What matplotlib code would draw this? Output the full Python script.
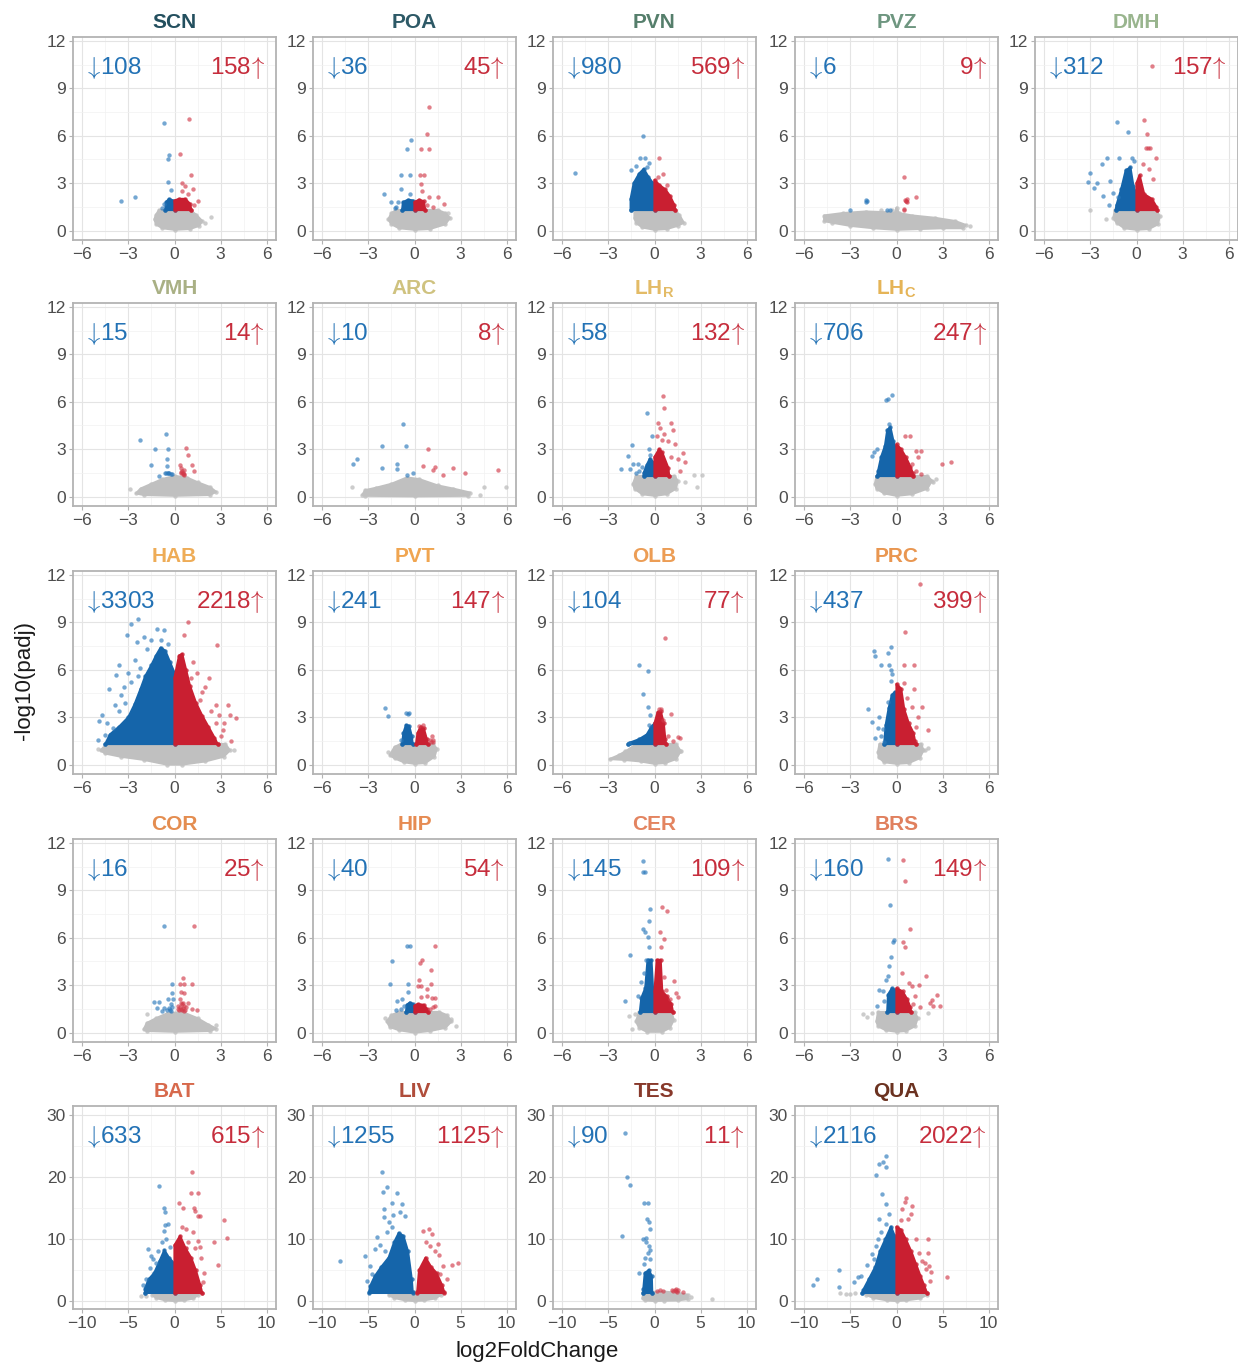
# Volcano plots of differential expression per tissue

import matplotlib
matplotlib.use('Agg')
import matplotlib.pyplot as plt
from matplotlib.patches import Polygon
from matplotlib.ticker import MultipleLocator

plt.rcParams['font.family'] = ['Liberation Sans', 'DejaVu Sans']
plt.rcParams['mathtext.fontset'] = 'cm'

# -log10(0.05)
THR = 1.3

regions = ['SCN', 'POA', 'PVN', 'PVZ', 'DMH',
           'VMH', 'ARC', 'LH$_\\mathregular{R}$', 'LH$_\\mathregular{C}$',
           'HAB', 'PVT', 'OLB', 'PRC',
           'COR', 'HIP', 'CER', 'BRS',
           'BAT', 'LIV', 'TES', 'QUA']
down_counts = [108, 36, 980, 6, 312, 15, 10, 58, 706, 3303, 241, 104, 437,
               16, 40, 145, 160, 633, 1255, 90, 2116]
up_counts = [158, 45, 569, 9, 157, 14, 8, 132, 247, 2218, 147, 77, 399,
             25, 54, 109, 149, 615, 1125, 11, 2022]
title_colors = ['#234f5e', '#2d5966', '#557e6b', '#6e9680', '#99b58e',
                '#a9b084', '#cfc27f', '#e3bb66', '#e5b457',
                '#eeac57', '#f0a550', '#ec9d55', '#e99650',
                '#e48d50', '#e68b52', '#e38460', '#e0805e',
                '#d7694c', '#b04d3b', '#88392b', '#6b3220']

# ---- SCN
SCN_GREY = [(-1.3, 0.7), (-1.2, 1.0), (-1.0, 1.3), (1.0, 1.3), (1.4, 1.0), (1.8, 0.6),
            (1.6, 0.3), (1.0, 0.1), (0.0, 0.05), (-0.8, 0.15), (-1.2, 0.4)]
SCN_DOWN = [(-0.6, 1.3), (-0.55, 1.8), (-0.35, 2.0), (-0.1, 1.9), (0, 1.8)]
SCN_UP = [(0, 1.9), (0.3, 2.0), (0.7, 2.0), (1.0, 1.7), (1.1, 1.3)]
SCN_DOWN_PTS = [(-0.71, 6.78), (-0.35, 4.8), (-0.4, 4.5), (-0.44, 3.05), (-0.22, 2.55),
                (-3.5, 1.9), (-2.55, 2.1), (-0.7, 1.65), (-0.8, 1.45)]
SCN_UP_PTS = [(0.96, 7.05), (0.38, 4.85), (1.1, 3.5), (0.5, 3.0), (0.7, 2.8), (0.5, 2.5),
              (0.9, 2.3), (1.5, 1.9), (1.2, 2.6), (1.3, 1.6)]
SCN_GREY_PTS = [(2.4, 0.85), (2.0, 0.5)]

# ---- POA
POA_GREY = [(-1.7, 0.7), (-1.5, 1.1), (-1.2, 1.3), (1.5, 1.3), (2.0, 1.1), (2.3, 0.8),
            (2.0, 0.4), (1.0, 0.1), (0, 0.05), (-1.0, 0.15), (-1.5, 0.4)]
POA_DOWN = [(-0.8, 1.3), (-0.75, 1.8), (-0.4, 1.95), (-0.1, 1.9), (0, 1.7)]
POA_UP = [(0, 1.8), (0.3, 1.95), (0.6, 1.85), (0.7, 1.3)]
POA_DOWN_PTS = [(-0.22, 5.7), (-0.49, 5.15), (-0.89, 3.5), (-0.27, 3.5), (-0.89, 2.6),
                (-2.0, 2.3), (-1.56, 1.8), (-1.1, 1.8), (-1.2, 1.5), (-0.3, 2.3), (-1.3, 1.4)]
POA_UP_PTS = [(0.96, 7.8), (0.84, 6.1), (0.44, 5.15), (0.96, 5.15), (0.33, 3.5), (0.62, 3.5),
              (0.4, 2.95), (0.5, 2.5), (0.93, 2.1), (1.56, 2.1), (1.9, 1.7), (0.8, 1.6), (1.2, 1.5)]
POA_GREY_PTS = [(2.2, 1.1)]

# ---- PVN
PVN_GREY = [(-1.3, 0.8), (-1.3, 1.3), (1.3, 1.3), (1.6, 1.0), (1.9, 0.5), (1.5, 0.3),
            (0.8, 0.1), (0, 0.05), (-0.8, 0.2), (-1.2, 0.5)]
PVN_DOWN = [(-1.55, 1.3), (-1.55, 2.0), (-1.35, 3.0), (-1.0, 3.6), (-0.7, 3.9),
            (-0.4, 3.4), (-0.1, 3.0), (0, 2.8)]
PVN_UP = [(0, 3.2), (0.3, 2.9), (0.7, 2.6), (1.0, 2.2), (1.3, 1.6), (1.35, 1.3)]
PVN_DOWN_PTS = [(-0.78, 6.0), (-5.2, 3.67), (-0.96, 4.6), (-0.62, 4.6), (-1.5, 3.8),
                (-0.34, 4.3), (-1.2, 4.1), (-0.5, 4.0)]
PVN_UP_PTS = [(0.3, 4.6), (0.53, 3.56), (0.2, 3.4), (0.8, 2.9)]
PVN_GREY_PTS = []

# ---- PVZ
PVZ_GREY = [(-4.7, 0.6), (-4.7, 0.95), (-3.5, 1.1), (-2.0, 1.2), (-0.6, 1.15), (-0.1, 1.1),
            (0.0, 1.45), (0.15, 1.1), (1.0, 0.95), (2.5, 0.8), (3.8, 0.6), (4.5, 0.35),
            (4.3, 0.15), (3.0, 0.15), (1.5, 0.1), (0, 0.05), (-1.5, 0.15), (-3.0, 0.3),
            (-4.2, 0.5)]
PVZ_DOWN = None
PVZ_UP = None
PVZ_DOWN_PTS = [(-3.0, 1.3), (-1.97, 1.93), (-1.97, 1.8), (-0.45, 1.3), (-0.6, 1.33), (-1.9, 1.87)]
PVZ_UP_PTS = [(0.48, 3.4), (0.55, 1.93), (0.67, 1.8), (1.27, 2.1), (0.48, 1.3), (0.6, 1.9),
              (0.7, 2.0), (0.5, 1.35), (0.62, 1.85)]
PVZ_GREY_PTS = [(4.8, 0.3), (-1.0, 1.3), (-0.3, 1.3)]

# ---- DMH
DMH_GREY = [(-1.5, 0.8), (-1.4, 1.3), (1.3, 1.3), (1.5, 0.9), (1.4, 0.4), (0.8, 0.1),
            (0, 0.05), (-0.8, 0.15), (-1.3, 0.5)]
DMH_DOWN = [(-1.35, 1.3), (-1.3, 1.6), (-1.0, 2.6), (-0.7, 3.8), (-0.4, 4.0), (-0.2, 2.8), (0, 2.3)]
DMH_UP = [(0, 3.0), (0.2, 3.5), (0.5, 2.3), (1.0, 2.0), (1.3, 1.5), (1.35, 1.3)]
DMH_DOWN_PTS = [(-1.29, 6.9), (-0.54, 6.25), (-1.95, 4.6), (-2.25, 4.2), (-3.0, 3.67),
                (-3.15, 3.04), (-2.55, 3.0), (-2.76, 2.7), (-1.71, 3.14), (-1.5, 2.4),
                (-1.2, 2.1), (-1.14, 4.6), (-0.3, 4.6), (-0.15, 4.4), (-1.8, 1.6), (-2.2, 2.2)]
DMH_UP_PTS = [(0.51, 7.0), (0.66, 6.1), (0.75, 5.25), (0.9, 5.25), (1.29, 4.6), (0.45, 4.2),
              (0.6, 5.2), (1.05, 3.25), (0.99, 10.4), (0.8, 3.9)]
DMH_GREY_PTS = [(-3.0, 1.3), (-2.0, 0.73)]

# ---- VMH
VMH_GREY = [(-2.5, 0.2), (-2.2, 0.5), (-1.5, 0.8), (-0.8, 1.1), (0, 1.3), (0.8, 1.2),
            (1.5, 0.9), (2.3, 0.6), (2.7, 0.3), (2.3, 0.1), (0, 0.05), (-2.0, 0.1)]
VMH_DOWN = None
VMH_UP = None
VMH_DOWN_PTS = [(-2.23, 3.55), (-1.27, 3.0), (-1.5, 2.0), (-0.56, 3.97), (-0.45, 3.0),
                (-0.5, 2.4), (-0.51, 1.94), (-0.56, 1.5), (-0.34, 1.46), (-0.18, 1.42),
                (-1.0, 1.3), (-0.45, 1.5), (-0.25, 1.44), (-0.4, 1.5), (-0.6, 1.48)]
VMH_UP_PTS = [(0.74, 3.09), (0.89, 2.6), (1.12, 1.98), (1.3, 1.63), (0.34, 1.98), (0.45, 1.8),
              (0.56, 1.52), (0.63, 1.7), (0.45, 1.46), (0.55, 1.4), (0.65, 1.45), (0.5, 1.6),
              (0.6, 1.35), (0.4, 1.55)]
VMH_GREY_PTS = [(-2.9, 0.5)]

# ---- ARC
ARC_GREY = [(-3.4, 0.1), (-3.2, 0.4), (-2.5, 0.55), (-1.5, 0.8), (-0.5, 1.2), (0.3, 1.1),
            (1.5, 0.7), (2.5, 0.5), (3.6, 0.25), (3.5, 0.05), (0, 0.02), (-3.2, 0.05)]
ARC_DOWN = None
ARC_UP = None
ARC_DOWN_PTS = [(-4.0, 2.09), (-3.76, 2.36), (-2.14, 3.19), (-2.1, 1.82), (-1.17, 2.09),
                (-1.17, 1.72), (-0.72, 4.6), (-0.56, 3.2), (-0.52, 1.36), (-0.07, 1.5)]
ARC_UP_PTS = [(0.9, 2.98), (0.56, 1.92), (1.19, 1.7), (1.87, 1.36), (2.48, 1.8), (3.27, 1.5),
              (5.4, 1.66), (1.35, 1.85)]
ARC_GREY_PTS = [(-4.05, 0.63), (4.28, 0.1), (4.5, 0.6), (5.97, 0.6)]

# ---- LH rostral
LHR_GREY = [(-1.4, 0.8), (-1.2, 1.3), (1.3, 1.3), (1.5, 1.0), (1.4, 0.5), (0.8, 0.15),
            (0, 0.05), (-0.8, 0.15), (-1.3, 0.5)]
LHR_DOWN = [(-0.7, 1.3), (-0.7, 1.5), (-0.5, 2.0), (-0.3, 2.4), (0, 2.1)]
LHR_UP = [(0, 2.5), (0.3, 3.0), (0.5, 2.8), (0.9, 1.8), (0.95, 1.3)]
LHR_DOWN_PTS = [(-0.49, 5.28), (-1.45, 3.25), (-1.72, 2.59), (-2.2, 1.76), (-1.38, 2.07),
                (-1.05, 2.07), (-0.82, 1.86), (-0.31, 2.6), (-0.38, 3.0), (-0.16, 3.83),
                (-1.6, 1.76), (-1.0, 1.6), (-1.2, 1.5)]
LHR_UP_PTS = [(0.58, 6.36), (0.62, 5.59), (0.24, 4.66), (0.36, 4.35), (1.07, 4.66), (1.22, 4.18),
              (0.62, 3.93), (0.85, 3.52), (1.34, 3.31), (1.85, 2.73), (1.96, 2.17), (1.69, 1.61),
              (1.51, 2.38), (0.18, 3.8), (0.5, 3.6), (1.1, 2.5)]
LHR_GREY_PTS = [(3.07, 1.35), (2.6, 1.35), (2.79, 0.62), (2.0, 0.9)]

# ---- LH caudal
LHC_GREY = [(-1.4, 0.8), (-1.3, 1.3), (2.0, 1.3), (2.3, 1.0), (2.0, 0.5), (1.0, 0.15),
            (0, 0.05), (-0.8, 0.2), (-1.3, 0.5)]
LHC_DOWN = [(-1.25, 1.3), (-1.2, 1.6), (-1.0, 2.5), (-0.75, 3.2), (-0.6, 4.2), (-0.4, 4.4),
            (-0.2, 3.5), (0, 2.9)]
LHC_UP = [(0, 3.3), (0.3, 3.0), (0.6, 2.5), (0.9, 1.9), (1.05, 1.5), (1.1, 1.3)]
LHC_DOWN_PTS = [(-0.57, 6.15), (-0.27, 6.42), (-0.71, 6.1), (-1.49, 2.8), (-1.6, 2.59),
                (-1.26, 3.0), (-0.5, 4.6)]
LHC_UP_PTS = [(0.57, 3.83), (0.91, 3.83), (1.26, 2.9), (1.6, 2.9), (1.37, 2.48), (2.93, 2.03),
              (3.54, 2.17), (1.03, 2.07), (1.3, 1.6), (1.6, 1.45)]
LHC_GREY_PTS = [(2.6, 1.14), (2.4, 0.9)]

# ---- HAB
HAB_GREY = [(-4.8, 0.9), (-4.4, 1.3), (3.3, 1.3), (3.6, 0.9), (3.2, 0.5), (2.0, 0.2),
            (0.5, 0.0), (-0.5, 0.0), (-2.0, 0.3), (-3.5, 0.5), (-4.5, 0.7)]
HAB_DOWN = [(-4.5, 1.3), (-4.2, 1.9), (-3.6, 2.4), (-3.0, 3.0), (-2.6, 3.8), (-2.2, 4.8),
            (-1.9, 5.6), (-1.5, 6.3), (-1.2, 6.9), (-0.9, 7.4), (-0.6, 7.2), (-0.3, 6.5), (0, 5.8)]
HAB_UP = [(0, 5.5), (0.3, 6.9), (0.5, 7.0), (0.75, 6.0), (1.0, 5.0), (1.4, 3.9), (1.8, 3.1),
          (2.2, 2.4), (2.6, 1.7), (2.8, 1.3)]
HAB_DOWN_PTS = [(-2.35, 9.22), (-2.8, 8.9), (-1.12, 8.6), (-0.67, 8.5), (-3.1, 8.2), (-2.0, 8.1),
                (-2.46, 7.75), (-1.56, 7.86), (-3.58, 6.3), (-3.8, 5.66), (-4.25, 4.8),
                (-4.9, 2.73), (-5.0, 1.57), (-4.7, 3.15), (-3.9, 3.77), (-3.47, 4.4),
                (-2.8, 5.24), (-2.23, 6.08), (-4.0, 2.3), (-4.5, 1.9), (-3.2, 3.9), (-3.0, 5.8),
                (-2.6, 6.6), (-1.8, 7.3), (-0.9, 7.9), (-0.4, 7.6), (-4.4, 2.6), (-3.6, 3.4),
                (-3.3, 4.9), (-2.4, 5.6)]
HAB_UP_PTS = [(0.89, 9.0), (0.63, 8.18), (2.75, 7.55), (1.79, 4.61), (1.63, 4.09), (2.68, 3.77),
              (3.46, 3.77), (4.02, 2.94), (3.58, 3.14), (2.9, 3.14), (3.13, 2.2), (3.69, 1.47),
              (3.0, 1.78), (2.23, 5.45), (2.0, 4.93), (1.45, 5.77), (1.23, 6.5), (1.1, 5.5),
              (2.4, 3.4), (3.2, 2.6), (2.7, 2.6)]
HAB_GREY_PTS = [(-5.0, 1.0), (3.9, 0.9)]

# ---- PVT
PVT_GREY = [(-1.6, 0.6), (-1.3, 1.1), (-0.9, 1.3), (1.2, 1.3), (1.45, 1.0), (1.3, 0.5),
            (0.7, 0.1), (0, 0.05), (-0.7, 0.15), (-1.3, 0.4)]
PVT_DOWN = [(-0.8, 1.3), (-0.72, 2.0), (-0.55, 2.5), (-0.35, 2.45), (-0.18, 1.8), (-0.12, 1.3)]
PVT_UP = [(0.1, 1.3), (0.2, 2.0), (0.4, 2.4), (0.6, 2.3), (0.8, 1.6), (0.85, 1.3)]
PVT_DOWN_PTS = [(-1.91, 3.56), (-1.73, 3.08), (-0.56, 3.25), (-0.34, 3.25), (-0.9, 1.57), (-0.45, 3.2)]
PVT_UP_PTS = [(0.56, 2.5), (1.19, 1.57), (1.13, 1.78), (1.0, 1.57), (1.1, 1.4), (1.2, 1.45), (0.3, 2.45)]
PVT_GREY_PTS = [(-1.7, 0.8)]

# ---- OLB
OLB_GREY = [(-2.9, 0.35), (-2.3, 0.6), (-1.6, 1.0), (-1.2, 1.3), (1.4, 1.3), (1.7, 0.85),
            (1.4, 0.35), (0.7, 0.1), (0, 0.05), (-0.9, 0.2), (-2.0, 0.3)]
OLB_DOWN = [(-1.7, 1.3), (-1.6, 1.38), (-1.0, 1.6), (-0.5, 1.9), (-0.2, 2.4), (0, 2.6)]
OLB_UP = [(0, 2.6), (0.2, 3.3), (0.4, 3.4), (0.6, 2.6), (0.7, 1.6), (0.75, 1.3)]
OLB_DOWN_PTS = [(-1.0, 6.27), (-0.45, 5.91), (-0.73, 4.46), (-0.4, 3.63), (-0.27, 3.11),
                (-0.33, 2.49), (-1.67, 1.35)]
OLB_UP_PTS = [(0.67, 8.03), (1.05, 3.22), (1.56, 1.76), (1.67, 1.66), (0.56, 2.8), (0.45, 3.5),
              (0.29, 3.5), (0.9, 1.8), (1.2, 1.5)]
OLB_GREY_PTS = [(-2.34, 0.52), (-1.9, 0.83), (1.67, 0.83)]

# ---- PRC
PRC_GREY = [(-1.2, 0.8), (-1.1, 1.3), (1.6, 1.3), (1.75, 0.9), (1.5, 0.4), (0.8, 0.1),
            (0, 0.05), (-0.8, 0.15), (-1.15, 0.45)]
PRC_DOWN = [(-0.8, 1.3), (-0.7, 2.5), (-0.5, 3.6), (-0.3, 4.4), (-0.1, 4.6), (0, 4.3)]
PRC_UP = [(0, 5.1), (0.3, 4.8), (0.5, 3.5), (0.8, 2.6), (1.1, 2.0), (1.2, 1.5), (1.25, 1.3)]
PRC_DOWN_PTS = [(-1.42, 6.85), (-1.49, 7.16), (-0.57, 7.05), (-0.34, 7.47), (-1.03, 6.33),
                (-0.46, 6.33), (-0.27, 5.7), (-0.39, 6.0), (-0.34, 5.29), (-1.83, 3.53),
                (-1.6, 2.7), (-1.14, 3.0), (-0.91, 2.28), (-1.37, 1.66), (-0.8, 1.45),
                (-0.57, 3.94), (-1.2, 2.3), (-1.0, 1.8)]
PRC_UP_PTS = [(1.55, 11.45), (0.53, 8.4), (0.5, 6.33), (1.14, 6.33), (0.46, 5.19), (1.14, 4.77),
              (1.03, 3.63), (1.65, 3.63), (2.06, 2.18), (1.37, 3.0), (0.7, 4.2), (1.3, 2.4)]
PRC_GREY_PTS = [(2.06, 1.04), (1.83, 0.93)]

# ---- COR
COR_GREY = [(-2.0, 0.2), (-1.8, 0.6), (-1.2, 0.9), (-0.5, 1.2), (0.5, 1.3), (1.5, 0.9),
            (2.2, 0.5), (2.7, 0.25), (2.3, 0.1), (0, 0.05), (-1.8, 0.1)]
COR_DOWN = None
COR_UP = None
COR_DOWN_PTS = [(-0.67, 6.75), (-0.16, 3.04), (-1.34, 1.95), (-1.0, 1.95), (-1.16, 1.53),
                (-0.67, 1.57), (-0.45, 2.1), (-0.34, 1.57), (-0.18, 2.52), (-0.11, 2.1),
                (-0.22, 1.78), (-0.3, 1.45), (-0.5, 1.4), (-0.15, 1.6), (-0.8, 1.35), (-0.25, 1.35)]
COR_UP_PTS = [(1.27, 6.75), (0.56, 3.46), (0.34, 3.04), (0.63, 3.04), (1.12, 3.04), (0.4, 2.56),
              (0.63, 2.52), (0.34, 2.1), (0.49, 1.78), (0.56, 1.57), (0.89, 1.89), (1.12, 1.47),
              (1.45, 1.43), (0.22, 1.68), (0.45, 1.5), (0.6, 1.7), (0.5, 1.4), (0.35, 1.6),
              (0.7, 1.45), (0.4, 1.85), (0.3, 1.4), (0.65, 1.35), (0.55, 1.9), (0.75, 1.6),
              (0.25, 1.5)]
COR_GREY_PTS = [(-1.79, 1.15), (2.7, 0.5)]

# ---- HIP
HIP_GREY = [(-1.8, 0.7), (-1.5, 1.1), (-1.0, 1.3), (1.6, 1.3), (2.1, 1.1), (2.4, 0.7),
            (2.0, 0.3), (1.0, 0.1), (0, 0.0), (-1.0, 0.15), (-1.6, 0.35)]
HIP_DOWN = [(-0.55, 1.3), (-0.5, 1.75), (-0.3, 1.9), (-0.1, 1.8), (0, 1.6)]
HIP_UP = [(0, 1.7), (0.2, 1.8), (0.6, 1.75), (0.8, 1.5), (0.85, 1.3)]
HIP_DOWN_PTS = [(-0.5, 5.5), (-0.27, 5.5), (-1.46, 4.5), (-1.58, 3.04), (-0.41, 3.08),
                (-0.41, 2.56), (-1.13, 2.0), (-0.79, 2.1), (-0.68, 1.68), (-0.9, 1.5), (-1.2, 1.45)]
HIP_UP_PTS = [(1.35, 5.5), (0.5, 4.6), (0.34, 4.4), (1.08, 3.98), (0.29, 3.35), (1.08, 3.04),
              (0.23, 2.94), (0.4, 2.94), (0.79, 2.73), (0.4, 2.24), (1.13, 2.2), (1.35, 2.2),
              (1.35, 1.68), (0.79, 2.3), (1.0, 1.5), (1.2, 1.6)]
HIP_GREY_PTS = [(2.36, 0.84), (2.7, 0.42), (-1.9, 0.9)]

# ---- CER
CER_GREY = [(-1.2, 0.7), (-1.0, 1.3), (1.1, 1.3), (1.25, 0.8), (1.0, 0.3), (0.5, 0.05),
            (-0.5, 0.05), (-1.0, 0.3)]
CER_DOWN = [(-0.95, 1.3), (-0.85, 2.2), (-0.6, 2.8), (-0.45, 4.6), (-0.2, 4.6), (-0.1, 2.8), (0, 2.6)]
CER_UP = [(0, 2.6), (0.15, 4.6), (0.4, 4.6), (0.5, 2.6), (0.8, 2.3), (1.1, 1.8), (1.2, 1.3)]
CER_DOWN_PTS = [(-0.78, 10.86), (-0.73, 10.17), (-0.65, 10.17), (-0.27, 7.83), (-0.38, 7.03),
                (-0.78, 6.58), (-0.62, 6.37), (-0.45, 6.05), (-0.33, 5.43), (-1.6, 4.9),
                (-1.89, 1.98), (-0.67, 3.76), (-0.56, 4.6), (-0.9, 3.2), (-1.1, 2.3)]
CER_UP_PTS = [(0.51, 7.97), (0.82, 7.68), (0.33, 6.37), (0.6, 5.95), (0.45, 5.43), (1.29, 3.28),
              (1.4, 2.5), (1.56, 2.23), (0.78, 2.71), (1.0, 2.1), (0.6, 3.5)]
CER_GREY_PTS = [(-1.45, 0.2), (-1.67, 1.04), (-1.3, 1.2)]

# ---- BRS
BRS_GREY = [(-1.3, 0.7), (-1.2, 1.3), (1.2, 1.3), (1.37, 0.9), (1.2, 0.4), (0.6, 0.1),
            (0, 0.05), (-0.7, 0.15), (-1.2, 0.4)]
BRS_DOWN = [(-0.6, 1.3), (-0.55, 2.4), (-0.3, 2.8), (-0.1, 2.7), (0, 2.3)]
BRS_UP = [(0, 2.8), (0.4, 2.6), (0.7, 2.1), (0.9, 1.6), (0.95, 1.3)]
BRS_DOWN_PTS = [(-0.57, 11.0), (-0.41, 8.1), (-0.18, 5.85), (-0.34, 4.8), (-0.46, 4.22),
                (-0.57, 3.55), (-0.69, 3.34), (-0.91, 2.61), (-1.14, 2.71), (-1.26, 1.67),
                (-0.25, 5.7), (-0.8, 2.0)]
BRS_UP_PTS = [(0.41, 10.9), (0.53, 9.6), (0.85, 6.53), (0.41, 5.74), (0.57, 5.43), (0.34, 3.76),
              (0.8, 3.13), (1.03, 2.92), (1.49, 3.03), (1.9, 3.55), (1.21, 2.3), (2.29, 2.09),
              (2.17, 1.88), (2.63, 2.4), (2.8, 1.67), (2.4, 1.67), (1.1, 1.8), (1.5, 1.6)]
BRS_GREY_PTS = [(-2.17, 1.15), (-1.6, 1.25), (2.06, 1.25), (-1.9, 1.0)]

# ---- BAT
BAT_GREY = [(-2.4, 1.0), (-2.0, 1.3), (2.2, 1.3), (2.6, 1.0), (2.0, 0.4), (1.0, 0.1),
            (0, 0.0), (-1.0, 0.1), (-2.0, 0.5)]
BAT_DOWN = [(-3.2, 1.3), (-3.2, 2.0), (-2.8, 3.5), (-2.2, 4.5), (-1.6, 6.5), (-1.1, 8.2),
            (-0.6, 7.0), (0, 6.0)]
BAT_UP = [(0, 9.0), (0.6, 10.5), (1.2, 8.5), (1.8, 7.0), (2.3, 5.0), (2.8, 2.5), (3.0, 1.3)]
BAT_DOWN_PTS = [(-1.73, 18.6), (-1.15, 15.0), (-1.0, 14.3), (-1.08, 12.2), (-1.15, 11.35),
                (-0.72, 12.4), (-2.88, 8.38), (-0.54, 8.65), (-3.06, 3.5), (-2.7, 5.4),
                (-2.34, 6.76), (-1.98, 6.2), (-1.4, 9.5), (-0.9, 10.0), (-3.4, 2.5),
                (-2.5, 7.2), (-1.8, 8.0)]
BAT_UP_PTS = [(1.87, 20.9), (1.8, 17.4), (2.6, 17.4), (0.54, 15.8), (0.9, 15.0), (2.1, 15.0),
              (2.27, 14.6), (2.52, 13.7), (2.77, 13.7), (5.4, 13.0), (5.7, 10.1), (4.3, 9.5),
              (4.7, 5.8), (1.26, 11.6), (1.98, 11.1), (2.52, 9.73), (2.8, 8.65), (2.9, 7.0),
              (3.06, 3.0), (1.5, 9.5), (0.8, 12.0), (2.2, 8.5), (3.2, 4.5)]
BAT_GREY_PTS = [(-3.6, 0.8), (-3.06, 0.8)]

# ---- LIV
LIV_GREY = [(-2.8, 1.0), (-2.4, 1.5), (2.5, 1.5), (2.9, 1.0), (2.2, 0.4), (1.0, 0.1),
            (0, 0.0), (-1.0, 0.1), (-2.2, 0.5)]
LIV_DOWN = [(-4.9, 1.5), (-4.8, 2.4), (-4.3, 4.0), (-3.6, 5.5), (-2.8, 7.0), (-2.2, 9.5),
            (-1.7, 11.0), (-1.2, 10.5), (-0.7, 8.0), (-0.3, 3.5), (-0.2, 1.5)]
LIV_UP = [(0.3, 1.5), (0.5, 5.0), (1.2, 7.0), (1.8, 5.5), (2.4, 4.5), (3.0, 2.5), (3.2, 1.5)]
LIV_DOWN_PTS = [(-3.53, 20.9), (-3.0, 18.4), (-3.42, 17.6), (-1.9, 17.5), (-2.45, 15.9),
                (-1.37, 15.7), (-3.35, 14.8), (-1.55, 14.3), (-2.34, 13.9), (-1.08, 13.7),
                (-3.35, 13.5), (-2.74, 12.8), (-8.03, 6.5), (-5.33, 7.3), (-4.07, 10.3),
                (-4.25, 8.4), (-4.8, 5.7), (-4.6, 4.3), (-3.7, 9.0), (-3.0, 11.1),
                (-2.4, 12.0), (-3.2, 8.0), (-5.2, 3.2)]
LIV_UP_PTS = [(0.97, 11.35), (1.62, 11.6), (1.87, 10.8), (2.5, 9.2), (2.23, 8.1), (1.7, 8.9),
              (2.7, 7.5), (4.03, 5.8), (4.75, 6.1), (3.14, 5.7), (2.77, 4.3), (1.3, 9.5), (3.5, 3.5)]
LIV_GREY_PTS = []

# ---- TES
TES_GREY = [(-1.3, 0.4), (-1.2, 1.4), (1.0, 1.5), (2.5, 1.3), (3.6, 1.0), (3.6, 0.3),
            (2.5, 0.1), (1.0, 0.05), (0, 0.0), (-1.0, 0.1)]
TES_DOWN = [(-1.2, 1.3), (-1.2, 2.0), (-1.05, 4.5), (-0.6, 5.0), (-0.3, 4.0), (-0.25, 1.3)]
TES_UP = None
TES_DOWN_PTS = [(-3.16, 27.1), (-2.98, 20.0), (-2.62, 18.8), (-1.09, 15.8), (-0.73, 15.8),
                (-0.8, 13.2), (-0.62, 12.8), (-0.47, 11.6), (-3.53, 10.5), (-1.2, 10.0),
                (-0.91, 10.1), (-0.62, 8.9), (-0.73, 7.8), (-1.09, 5.9), (-1.64, 4.5),
                (-0.47, 6.8), (-0.9, 9.5), (-0.5, 8.2), (-1.0, 7.0)]
TES_UP_PTS = [(0.55, 1.78), (2.18, 1.78), (2.36, 1.62), (3.09, 1.46), (0.91, 1.62), (2.0, 1.62),
              (2.55, 1.78), (0.25, 1.62), (2.3, 1.9), (1.9, 1.7), (2.45, 1.5)]
TES_GREY_PTS = [(6.18, 0.38), (4.0, 0.6)]

# ---- QUA
QUA_GREY = [(-3.3, 1.0), (-3.0, 1.5), (3.0, 1.5), (3.3, 1.0), (2.5, 0.4), (1.0, 0.1),
            (0, 0.0), (-1.0, 0.1), (-2.5, 0.5)]
QUA_DOWN = [(-3.7, 1.3), (-3.6, 1.8), (-3.0, 3.5), (-2.3, 5.5), (-1.8, 8.0), (-1.2, 10.0),
            (-0.6, 12.0), (-0.2, 10.5), (0, 9.0)]
QUA_UP = [(0, 12.0), (0.5, 11.5), (1.0, 10.0), (1.6, 8.0), (2.1, 6.0), (2.6, 4.0), (3.0, 2.5), (3.3, 1.3)]
QUA_DOWN_PTS = [(-1.09, 23.35), (-1.9, 22.2), (-1.42, 22.5), (-1.16, 21.6), (-2.25, 20.3),
                (-1.53, 17.3), (-1.16, 15.7), (-1.9, 13.2), (-1.16, 12.4), (-1.64, 11.1),
                (-6.25, 5.0), (-6.25, 2.3), (-8.6, 3.5), (-9.0, 2.5), (-3.9, 4.05), (-4.6, 3.0),
                (-3.16, 5.8), (-2.62, 7.6), (-2.25, 8.9), (-2.44, 6.8), (-4.2, 3.8),
                (-2.0, 10.0), (-0.8, 14.0)]
QUA_UP_PTS = [(1.02, 16.6), (0.91, 15.95), (0.58, 14.9), (1.56, 14.05), (1.2, 13.2), (1.64, 15.4),
              (3.38, 10.0), (3.45, 7.8), (3.1, 6.2), (3.56, 5.7), (3.75, 4.6), (5.49, 3.95),
              (3.2, 5.1), (2.47, 7.8), (2.1, 10.0), (0.5, 13.0), (2.8, 6.5), (3.6, 3.2)]
QUA_GREY_PTS = [(-6.07, 1.35), (-5.0, 1.08), (-5.5, 1.2), (-4.5, 1.25)]

grey_clouds = [SCN_GREY, POA_GREY, PVN_GREY, PVZ_GREY, DMH_GREY, VMH_GREY, ARC_GREY,
               LHR_GREY, LHC_GREY, HAB_GREY, PVT_GREY, OLB_GREY, PRC_GREY, COR_GREY,
               HIP_GREY, CER_GREY, BRS_GREY, BAT_GREY, LIV_GREY, TES_GREY, QUA_GREY]
down_cores = [SCN_DOWN, POA_DOWN, PVN_DOWN, PVZ_DOWN, DMH_DOWN, VMH_DOWN, ARC_DOWN,
              LHR_DOWN, LHC_DOWN, HAB_DOWN, PVT_DOWN, OLB_DOWN, PRC_DOWN, COR_DOWN,
              HIP_DOWN, CER_DOWN, BRS_DOWN, BAT_DOWN, LIV_DOWN, TES_DOWN, QUA_DOWN]
up_cores = [SCN_UP, POA_UP, PVN_UP, PVZ_UP, DMH_UP, VMH_UP, ARC_UP, LHR_UP, LHC_UP,
            HAB_UP, PVT_UP, OLB_UP, PRC_UP, COR_UP, HIP_UP, CER_UP, BRS_UP, BAT_UP,
            LIV_UP, TES_UP, QUA_UP]
down_points = [SCN_DOWN_PTS, POA_DOWN_PTS, PVN_DOWN_PTS, PVZ_DOWN_PTS, DMH_DOWN_PTS,
               VMH_DOWN_PTS, ARC_DOWN_PTS, LHR_DOWN_PTS, LHC_DOWN_PTS, HAB_DOWN_PTS,
               PVT_DOWN_PTS, OLB_DOWN_PTS, PRC_DOWN_PTS, COR_DOWN_PTS, HIP_DOWN_PTS,
               CER_DOWN_PTS, BRS_DOWN_PTS, BAT_DOWN_PTS, LIV_DOWN_PTS, TES_DOWN_PTS,
               QUA_DOWN_PTS]
up_points = [SCN_UP_PTS, POA_UP_PTS, PVN_UP_PTS, PVZ_UP_PTS, DMH_UP_PTS, VMH_UP_PTS,
             ARC_UP_PTS, LHR_UP_PTS, LHC_UP_PTS, HAB_UP_PTS, PVT_UP_PTS, OLB_UP_PTS,
             PRC_UP_PTS, COR_UP_PTS, HIP_UP_PTS, CER_UP_PTS, BRS_UP_PTS, BAT_UP_PTS,
             LIV_UP_PTS, TES_UP_PTS, QUA_UP_PTS]
grey_points = [SCN_GREY_PTS, POA_GREY_PTS, PVN_GREY_PTS, PVZ_GREY_PTS, DMH_GREY_PTS,
               VMH_GREY_PTS, ARC_GREY_PTS, LHR_GREY_PTS, LHC_GREY_PTS, HAB_GREY_PTS,
               PVT_GREY_PTS, OLB_GREY_PTS, PRC_GREY_PTS, COR_GREY_PTS, HIP_GREY_PTS,
               CER_GREY_PTS, BRS_GREY_PTS, BAT_GREY_PTS, LIV_GREY_PTS, TES_GREY_PTS,
               QUA_GREY_PTS]

GREY = '#c0c0c0'
BLUE_CORE = '#1565aa'
RED_CORE = '#c91f31'
BLUE_PT = '#2a78bb'
RED_PT = '#d23a4a'
BLUE_TXT = '#2372b5'
RED_TXT = '#c62d3c'

# panel layout in pixels (figure is 1238 x 1365)
FIG_W, FIG_H = 1238, 1365
col_left = [73, 313, 553, 795, 1035]
row_top = [37, 303, 571, 839, 1106]
PANEL = 203
layout = [(0, 0), (0, 1), (0, 2), (0, 3), (0, 4),
          (1, 0), (1, 1), (1, 2), (1, 3),
          (2, 0), (2, 1), (2, 2), (2, 3),
          (3, 0), (3, 1), (3, 2), (3, 3),
          (4, 0), (4, 1), (4, 2), (4, 3)]


def scatter_pts(ax, pts, color, alpha=0.65, z=3):
    if not pts:
        return
    xs = [p[0] for p in pts]
    ys = [p[1] for p in pts]
    ax.scatter(xs, ys, s=10, c=color, alpha=alpha, linewidths=0, zorder=z)


def add_cloud(ax, outline, color, z):
    ax.add_patch(Polygon(outline, closed=True, facecolor=color, edgecolor=color,
                         linewidth=1.6, joinstyle='round', zorder=z))
    scatter_pts(ax, outline, color, alpha=0.8, z=z)


def add_core(ax, profile, color, z):
    if profile is None:
        return
    outline = [(profile[0][0], THR)] + list(profile) + [(profile[-1][0], THR)]
    add_cloud(ax, outline, color, z)


def style_axes(ax, big):
    if big:
        ax.set_xlim(-11, 11)
        ax.set_ylim(-1.3, 31.5)
        ax.set_xticks([-10, -5, 0, 5, 10])
        ax.set_yticks([0, 10, 20, 30])
        ax.xaxis.set_minor_locator(MultipleLocator(2.5))
        ax.yaxis.set_minor_locator(MultipleLocator(5))
    else:
        ax.set_xlim(-6.6, 6.6)
        ax.set_ylim(-0.6, 12.25)
        ax.set_xticks([-6, -3, 0, 3, 6])
        ax.set_yticks([0, 3, 6, 9, 12])
        ax.xaxis.set_minor_locator(MultipleLocator(1.5))
        ax.yaxis.set_minor_locator(MultipleLocator(1.5))
    ax.grid(which='major', color='#e4e4e4', linewidth=0.8)
    ax.grid(which='minor', color='#f1f1f1', linewidth=0.5)
    ax.set_axisbelow(True)
    for sp in ax.spines.values():
        sp.set_color('#b3b3b3')
        sp.set_linewidth(1.3)
    ax.tick_params(which='major', length=3, width=0.8, color='#b3b3b3',
                   labelsize=12.5, labelcolor='#4d4d4d', pad=2)
    ax.tick_params(which='minor', length=0)


fig = plt.figure(figsize=(FIG_W / 100, FIG_H / 100), dpi=100)

for i, name in enumerate(regions):
    r, c = layout[i]
    left = col_left[c] / FIG_W
    bottom = 1 - (row_top[r] + PANEL) / FIG_H
    ax = fig.add_axes([left, bottom, PANEL / FIG_W, PANEL / FIG_H])
    style_axes(ax, r == 4)

    add_cloud(ax, grey_clouds[i], GREY, 2)
    scatter_pts(ax, grey_points[i], GREY, alpha=0.8, z=2)
    add_core(ax, down_cores[i], BLUE_CORE, 3)
    add_core(ax, up_cores[i], RED_CORE, 3)
    scatter_pts(ax, down_points[i], BLUE_PT)
    scatter_pts(ax, up_points[i], RED_PT)

    ax.text(0.5, 1.044, name, transform=ax.transAxes, ha='center', va='baseline',
            fontsize=15, fontweight='bold', color=title_colors[i])
    # down / up counts, arrows pulled a little closer to the digits
    ax.text(0.05, 0.848, '$\\downarrow\\!$' + str(down_counts[i]),
            transform=ax.transAxes, ha='left', va='center', fontsize=17.5,
            color=BLUE_TXT)
    ax.text(0.945, 0.848, str(up_counts[i]) + '$\\!\\uparrow$',
            transform=ax.transAxes, ha='right', va='center', fontsize=17.5,
            color=RED_TXT)

fig.text(25 / FIG_W, 1 - 680 / FIG_H, '-log10(padj)', rotation=90,
         ha='center', va='center', fontsize=16, color='#1a1a1a')
fig.text(537 / FIG_W, 1 - 1352 / FIG_H, 'log2FoldChange',
         ha='center', va='center', fontsize=16, color='#1a1a1a')

fig.savefig('out.png', dpi=100)
